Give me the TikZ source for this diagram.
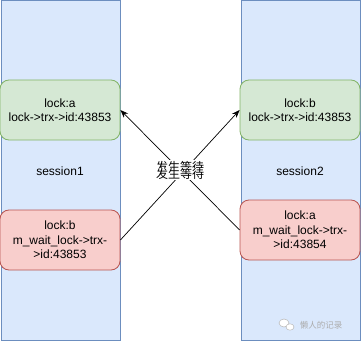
\documentclass[tikz,border=0pt]{standalone}
\usepackage{fontspec}
\setmainfont{Liberation Sans}
\newfontfamily\cjk{Noto Sans CJK SC}
\usetikzlibrary{arrows.meta}
\definecolor{bluefill}{HTML}{DAE8FC}
\definecolor{bluedraw}{HTML}{6C8EBF}
\definecolor{greenfill}{HTML}{D5E8D4}
\definecolor{greendraw}{HTML}{82B366}
\definecolor{redfill}{HTML}{F8CECC}
\definecolor{reddraw}{HTML}{B85450}
\tikzset{
  column/.style={draw=bluedraw, fill=bluefill, line width=0.8pt, minimum width=119.5pt, minimum height=339.5pt, anchor=north west, inner sep=0pt},
  lockbox/.style={line width=0.8pt, rounded corners=9pt, minimum width=120pt, minimum height=60pt, align=center, inner sep=0pt, font=\fontsize{12pt}{14.5pt}\selectfont},
  greenbox/.style={lockbox, draw=greendraw, fill=greenfill},
  redbox/.style={lockbox, draw=reddraw, fill=redfill},
  sesslabel/.style={font=\fontsize{12pt}{14pt}\selectfont},
  arr/.style={-{Stealth[length=8pt,width=6pt]}, line width=0.7pt, black},
  waitlabel/.style={fill=white, inner sep=0.5pt, font=\cjk\fontsize{12pt}{12pt}\selectfont},
  wmark/.style={text=gray!65, font=\cjk\fontsize{8.5pt}{9pt}\selectfont}
}
\begin{document}
\begin{tikzpicture}[x=1pt,y=-1pt]
\useasboundingbox (0,0) rectangle (361,342);
\node[column] (c1) at (0.5,0.5) {};
\node[column] (c2) at (240.5,0.5) {};
\node[sesslabel] (s1) at (60,171) {session1};
\node[sesslabel] (s2) at (300,171) {session2};
\node[greenbox] (g1) at (60,110) {lock:a\\lock->trx->id:43853};
\node[greenbox] (g2) at (300,110) {lock:b\\lock->trx->id:43853};
\node[redbox] (r1) at (60,240) {lock:b\\m\_wait\_lock->trx-\\>id:43853};
\node[redbox] (r2) at (300,230) {lock:a\\m\_wait\_lock->trx-\\>id:43854};
\draw[arr] (r1.east) -- (g2.west);
\draw[arr] (r2.west) -- (g1.east);
\node[waitlabel] (w1) at (180,166.5) {发生等待};
\node[waitlabel] (w2) at (180,174) {发生等待};
\node[wmark] (wm) at (321,325) {懒人的记录};
\draw[gray!55, fill=white, line width=0.5pt] (284,323) ellipse (5pt and 4pt);
\draw[gray!55, fill=white, line width=0.5pt] (290,327) ellipse (4pt and 3.2pt);
\end{tikzpicture}
\end{document}
